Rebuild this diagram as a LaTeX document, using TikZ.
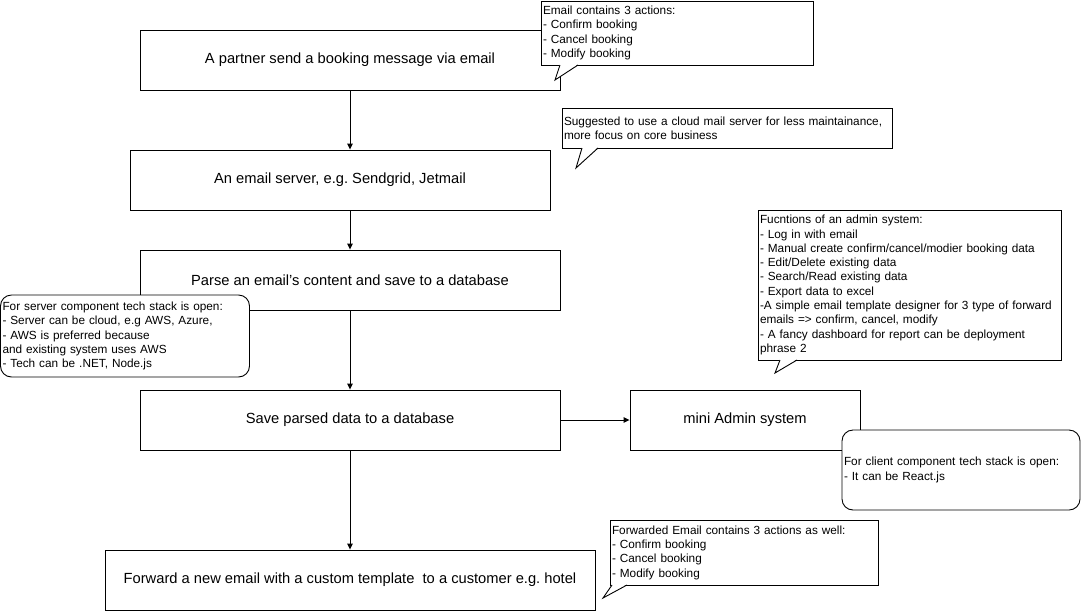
\documentclass[tikz,border=0pt]{standalone}
\usepackage{fontspec}
\setmainfont{Liberation Sans}
\usetikzlibrary{arrows.meta}
\frenchspacing
\tikzset{
  stepbox/.style={draw,line width=0.9pt,fill=white,inner sep=0pt,minimum height=60pt,
    font=\fontsize{14.7}{17}\selectfont},
  note/.style={draw,line width=0.9pt,fill=white,inner sep=2pt,outer sep=0pt,anchor=north west,
    align=left,font=\fontsize{11.8}{14.3}\selectfont},
  roundnote/.style={note,rounded corners=11pt},
  flow/.style={-{Triangle[length=6pt,width=5.5pt]},line width=0.9pt}
}
% tail of a speech bubble: node, base from, base to, tip x, tip drop
\newcommand{\notetail}[5]{%
  \fill[white] ([xshift=#2pt,yshift=0.7pt]#1.south west) -- ([xshift=#4pt,yshift=-#5pt]#1.south west)
    -- ([xshift=#3pt,yshift=0.7pt]#1.south west) -- cycle;
  \draw[line width=0.9pt] ([xshift=#2pt]#1.south west) -- ([xshift=#4pt,yshift=-#5pt]#1.south west)
    -- ([xshift=#3pt]#1.south west);}
\begin{document}
\begin{tikzpicture}[x=1pt,y=-1pt]
\useasboundingbox[fill=white] (0,0) rectangle (1081,611);
% main steps
\node[stepbox,minimum width=420pt] (partner) at (350,60) {A partner send a booking message via email};
\node[stepbox,minimum width=420pt] (server) at (340,180) {An email server, e.g. Sendgrid, Jetmail};
\node[stepbox,minimum width=420pt] (parse) at (350,280) {Parse an email's content and save to a database};
\node[stepbox,minimum width=420pt] (save) at (350,420) {Save parsed data to a database};
\node[stepbox,minimum width=230pt] (admin) at (745,420) {mini Admin system};
\node[stepbox,minimum width=490pt] (forward) at (350,580) {Forward a new email with a custom template\ \ to a customer e.g. hotel};
\draw[flow] (partner.south) -- (partner.south |- server.north);
\draw[flow] (parse.north |- server.south) -- (parse.north);
\draw[flow] (parse.south) -- (save.north);
\draw[flow] (save.south) -- (forward.north);
\draw[flow] (save.east) -- (admin.west);
% notes
\node[note,text width=268pt,minimum height=64pt] (actions) at (541,1) {Email contains 3 actions:\\- Confirm booking\\- Cancel booking\\- Modify booking};
\notetail{actions}{19}{37}{14}{15}
\node[note,text width=326pt,minimum height=40pt] (cloud) at (562,108) {Suggested to use a cloud mail server for less maintainance,\\more focus on core business};
\notetail{cloud}{20}{36}{14}{20}
\node[note,text width=299pt,minimum height=150pt] (functions) at (758,210) {Fucntions of an admin system:\\- Log in with email\\- Manual create confirm/cancel/modier booking data\\- Edit/Delete existing data\\- Search/Read existing data\\- Export data to excel\\-A simple email template designer for 3 type of forward\\emails => confirm, cancel, modify\\- A fancy dashboard for report can be deployment\\phrase 2};
\notetail{functions}{22}{39}{17}{13}
\node[roundnote,text width=245pt,minimum height=82pt] (servstack) at (0.5,295) {For server component tech stack is open:\\- Server can be cloud, e.g AWS, Azure,\\- AWS is preferred because\\and existing system uses AWS\\- Tech can be .NET, Node.js};
\node[roundnote,text width=234pt,minimum height=80pt] (clientstack) at (842,430) {For client component tech stack is open:\\- It can be React.js};
\node[note,text width=264pt,minimum height=65pt] (fwdactions) at (610,520) {Forwarded Email contains 3 actions as well:\\- Confirm booking\\- Cancel booking\\- Modify booking};
\notetail{fwdactions}{2}{17}{-7}{13}
\end{tikzpicture}
\end{document}
